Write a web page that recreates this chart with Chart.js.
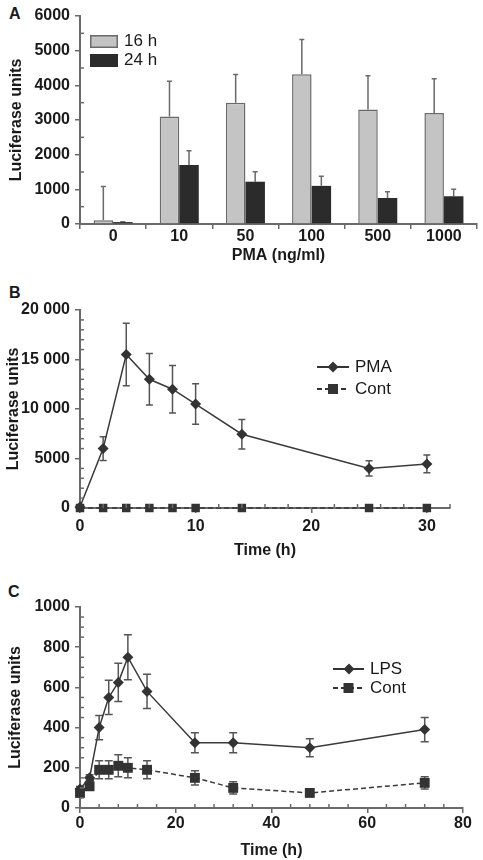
<!DOCTYPE html>
<html>
<head>
<meta charset="utf-8">
<script src="https://cdn.jsdelivr.net/npm/chart.js@4.4.1/dist/chart.umd.min.js"></script>
<style>
  body { margin: 0; background: #fff; width: 483px; height: 860px; position: relative; overflow: hidden;
         font-family: "Liberation Sans", Arial, sans-serif; color: #1a1a1a; }
  canvas { position: absolute; left: 0; }
  .lbl { position: absolute; font-weight: bold; font-size: 16px; line-height: 16px; }
  .leg { position: absolute; font-size: 17px; line-height: 20px; height: 20px; white-space: nowrap; }
  .leg svg { position: absolute; left: 0; top: 0; }
  .leg span { position: absolute; top: 0; }
</style>
</head>
<body>
<div class="lbl" style="left:9px;top:6px">A</div>
<div class="lbl" style="left:9px;top:285px">B</div>
<div class="lbl" style="left:8px;top:584px">C</div>

<canvas id="chartA" width="483" height="265" style="top:0"></canvas>
<canvas id="chartB" width="483" height="280" style="top:280px"></canvas>
<canvas id="chartC" width="483" height="300" style="top:560px"></canvas>

<!-- legends -->
<div class="leg" style="left:90px;top:31px">
  <svg width="30" height="20"><rect x="0.75" y="4.75" width="26.5" height="11.5" fill="#c4c4c4" stroke="#6a6a6a" stroke-width="1.5"/></svg>
  <span style="left:34px">16 h</span>
</div>
<div class="leg" style="left:90px;top:50px">
  <svg width="30" height="20"><rect x="0" y="4" width="28" height="13" fill="#2b2b2b"/></svg>
  <span style="left:34px">24 h</span>
</div>

<div class="leg" style="left:317px;top:357px">
  <svg width="34" height="20"><line x1="0" y1="10" x2="32" y2="10" stroke="#333" stroke-width="2"/><polygon points="16,4.5 21.5,10 16,15.5 10.5,10" fill="#333"/></svg>
  <span style="left:38px">PMA</span>
</div>
<div class="leg" style="left:317px;top:379px">
  <svg width="34" height="20"><line x1="0" y1="10" x2="32" y2="10" stroke="#333" stroke-width="2" stroke-dasharray="5,3"/><rect x="11" y="5" width="10" height="10" fill="#333"/></svg>
  <span style="left:38px">Cont</span>
</div>

<div class="leg" style="left:333px;top:659px">
  <svg width="34" height="20"><line x1="0" y1="10" x2="31" y2="10" stroke="#333" stroke-width="2"/><polygon points="16,4.5 21.5,10 16,15.5 10.5,10" fill="#333"/></svg>
  <span style="left:37px">LPS</span>
</div>
<div class="leg" style="left:333px;top:678px">
  <svg width="34" height="20"><line x1="0" y1="10" x2="31" y2="10" stroke="#333" stroke-width="2" stroke-dasharray="5,3"/><rect x="10.5" y="5" width="10" height="10" fill="#333"/></svg>
  <span style="left:37px">Cont</span>
</div>

<script>
// ---- panel A: PMA dose, bars ----
const doseLabels = ['0', '10', '50', '100', '500', '1000'];
const h16 = [110, 3100, 3500, 4320, 3300, 3200];
const h16Err = [970, 1020, 810, 1000, 980, 990];
const h24 = [55, 1700, 1220, 1100, 750, 800];
const h24Err = [10, 410, 290, 280, 180, 200];

// ---- panel B: PMA time course ----
const bTime = [0, 2, 4, 6, 8, 10, 14, 25, 30];
const pma = [100, 6000, 15500, 13000, 12000, 10500, 7450, 4000, 4450];
const pmaErr = [0, 1200, 3150, 2600, 2400, 2050, 1500, 780, 900];
const bCont = [0, 0, 0, 0, 0, 0, 0, 0, 0];

// ---- panel C: LPS time course ----
const cTime = [0, 2, 4, 6, 8, 10, 14, 24, 32, 48, 72];
const lps = [95, 150, 400, 550, 625, 750, 580, 325, 325, 300, 390];
const lpsErr = [12, 15, 60, 85, 95, 112, 85, 50, 50, 45, 60];
const cCont = [75, 108, 190, 190, 210, 200, 190, 150, 100, 75, 125];
const cContErr = [15, 20, 45, 45, 55, 50, 45, 35, 30, 15, 30];

const FONT = "'Liberation Sans', Arial, sans-serif";
const AXIS = '#6a6a6a';
const TEXT = '#1a1a1a';
const LINE = '#3a3a3a';

// error bars, drawn under the marks
const errorBars = {
  id: 'errorBars',
  beforeDatasetsDraw(chart) {
    const ctx = chart.ctx;
    const ys = chart.scales.y;
    chart.data.datasets.forEach((ds, di) => {
      if (!ds.errors) return;
      const meta = chart.getDatasetMeta(di);
      ctx.save();
      ctx.strokeStyle = ds.errColor || '#555';
      ctx.lineWidth = 1.5;
      meta.data.forEach((el, i) => {
        const raw = ds.data[i];
        const v = typeof raw === 'object' ? raw.y : raw;
        const e = ds.errors[i];
        if (!e) return;
        const top = ys.getPixelForValue(v + e);
        const bot = ds.oneSided ? ys.getPixelForValue(v) : ys.getPixelForValue(v - e);
        const w = ds.capWidth || 3;
        ctx.beginPath();
        ctx.moveTo(el.x, top); ctx.lineTo(el.x, bot);
        ctx.moveTo(el.x - w, top); ctx.lineTo(el.x + w, top);
        if (!ds.oneSided) { ctx.moveTo(el.x - w, bot); ctx.lineTo(el.x + w, bot); }
        ctx.stroke();
      });
      ctx.restore();
    });
  }
};

// small inward minor ticks
const minorTicks = {
  id: 'minorTicks',
  afterDraw(chart, args, opts) {
    const ctx = chart.ctx;
    ctx.save();
    ctx.strokeStyle = AXIS;
    ctx.lineWidth = 1.5;
    ['x', 'y'].forEach(id => {
      const step = opts[id];
      if (!step) return;
      const s = chart.scales[id];
      const major = s.ticks.map(t => t.value);
      for (let v = s.min + step; v < s.max + 1e-6; v += step) {
        if (major.some(m => Math.abs(m - v) < 1e-6)) continue;
        const p = s.getPixelForValue(v);
        ctx.beginPath();
        if (id === 'y') { ctx.moveTo(s.right, p); ctx.lineTo(s.right + 4, p); }
        else { ctx.moveTo(p, s.top); ctx.lineTo(p, s.top - 4); }
        ctx.stroke();
      }
    });
    ctx.restore();
  }
};

function yAxis(min, max, step, fmt, titlePad) {
  return {
    min: min, max: max,
    afterFit: s => { s.width = 80; },
    border: { color: AXIS, width: 2 },
    grid: { drawOnChartArea: false, drawTicks: true, tickLength: 5, color: AXIS, lineWidth: 1.5 },
    ticks: { stepSize: step, padding: 5, color: TEXT, font: { family: FONT, size: 16, weight: 'bold' },
             callback: fmt || (v => v) },
    title: { display: true, text: 'Luciferase units', color: TEXT, padding: { top: titlePad, bottom: 0 },
             font: { family: FONT, size: 16, weight: 'bold' } }
  };
}

function xLinear(max, step, h, tickPad, titlePad) {
  return {
    type: 'linear', min: 0, max: max,
    afterFit: s => { s.height = h; },
    // major ticks only at whole multiples of the step
    afterBuildTicks: s => {
      const t = [];
      for (let v = 0; v <= max; v += step) t.push({ value: v });
      s.ticks = t;
    },
    border: { color: AXIS, width: 2 },
    grid: { drawOnChartArea: false, drawTicks: true, tickLength: 5, color: AXIS, lineWidth: 1.5 },
    ticks: { stepSize: step, padding: tickPad, color: TEXT, maxRotation: 0, autoSkip: false,
             font: { family: FONT, size: 16, weight: 'bold' } },
    title: { display: true, text: 'Time (h)', color: TEXT, padding: { top: titlePad, bottom: 0 },
             font: { family: FONT, size: 16, weight: 'bold' } }
  };
}

const common = {
  responsive: false,
  animation: false,
  plugins: { legend: { display: false }, tooltip: { enabled: false } }
};

// panel A
new Chart(document.getElementById('chartA'), {
  type: 'bar',
  data: {
    labels: doseLabels,
    datasets: [
      { label: '16 h', data: h16, errors: h16Err, oneSided: true, capWidth: 2.5, errColor: '#6a6a6a',
        backgroundColor: '#c4c4c4', borderColor: '#6a6a6a', borderWidth: 1.5,
        categoryPercentage: 0.59, barPercentage: 1 },
      { label: '24 h', data: h24, errors: h24Err, oneSided: true, capWidth: 2.5, errColor: '#6a6a6a',
        backgroundColor: '#2b2b2b', borderColor: '#2b2b2b', borderWidth: 0,
        categoryPercentage: 0.59, barPercentage: 1 }
    ]
  },
  options: Object.assign({}, common, {
    layout: { padding: { top: 16, right: 6, left: 0, bottom: 0 } },
    plugins: Object.assign({}, common.plugins, { minorTicks: { y: 500 } }),
    scales: {
      x: {
        afterFit: s => { s.height = 41; },
        border: { color: AXIS, width: 2 },
        grid: { offset: true, drawOnChartArea: false, drawTicks: true, tickLength: 5, color: AXIS, lineWidth: 1.5 },
        ticks: { padding: -2, color: TEXT, font: { family: FONT, size: 16, weight: 'bold' } },
        title: { display: true, text: 'PMA (ng/ml)', color: TEXT, padding: { top: 5, bottom: 0 },
                 font: { family: FONT, size: 16, weight: 'bold' } }
      },
      y: yAxis(0, 6000, 1000, null, 7)
    }
  }),
  plugins: [errorBars, minorTicks]
});

// panel B
const fmtThousands = v => v >= 10000 ? String(v).replace(/(\d)(\d{3})$/, '$1 $2') : String(v);
new Chart(document.getElementById('chartB'), {
  type: 'line',
  data: {
    datasets: [
      { label: 'Cont', data: bTime.map((t, i) => ({ x: t, y: bCont[i] })), clip: false,
        borderColor: LINE, borderWidth: 1.5, borderDash: [5, 3], backgroundColor: '#333',
        pointStyle: 'rect', pointRadius: 6, pointBorderWidth: 0 },
      { label: 'PMA', data: bTime.map((t, i) => ({ x: t, y: pma[i] })), errors: pmaErr, capWidth: 3.5, clip: false,
        borderColor: LINE, borderWidth: 1.5, backgroundColor: '#333',
        pointStyle: 'rectRot', pointRadius: 5.5, pointBorderWidth: 0 }
    ]
  },
  options: Object.assign({}, common, {
    layout: { padding: { top: 30, right: 33, left: 0, bottom: 0 } },
    plugins: Object.assign({}, common.plugins, { minorTicks: { x: 2, y: 1000 } }),
    scales: {
      x: xLinear(32, 10, 52, 4, 5),
      y: yAxis(0, 20000, 5000, fmtThousands, 4)
    }
  }),
  plugins: [errorBars, minorTicks]
});

// panel C
new Chart(document.getElementById('chartC'), {
  type: 'line',
  data: {
    datasets: [
      { label: 'Cont', data: cTime.map((t, i) => ({ x: t, y: cCont[i] })), errors: cContErr, capWidth: 4, clip: false,
        borderColor: LINE, borderWidth: 1.5, borderDash: [5, 3], backgroundColor: '#333',
        pointStyle: 'rect', pointRadius: 7, pointBorderWidth: 0 },
      { label: 'LPS', data: cTime.map((t, i) => ({ x: t, y: lps[i] })), errors: lpsErr, capWidth: 4, clip: false,
        borderColor: LINE, borderWidth: 1.5, backgroundColor: '#333',
        pointStyle: 'rectRot', pointRadius: 5.5, pointBorderWidth: 0 }
    ]
  },
  options: Object.assign({}, common, {
    layout: { padding: { top: 47, right: 20, left: 0, bottom: 0 } },
    plugins: Object.assign({}, common.plugins, { minorTicks: { x: 4, y: 50 } }),
    scales: {
      x: xLinear(80, 20, 52, 1, 11),
      y: yAxis(0, 1000, 200, null, 6)
    }
  }),
  plugins: [errorBars, minorTicks]
});
</script>
</body>
</html>
